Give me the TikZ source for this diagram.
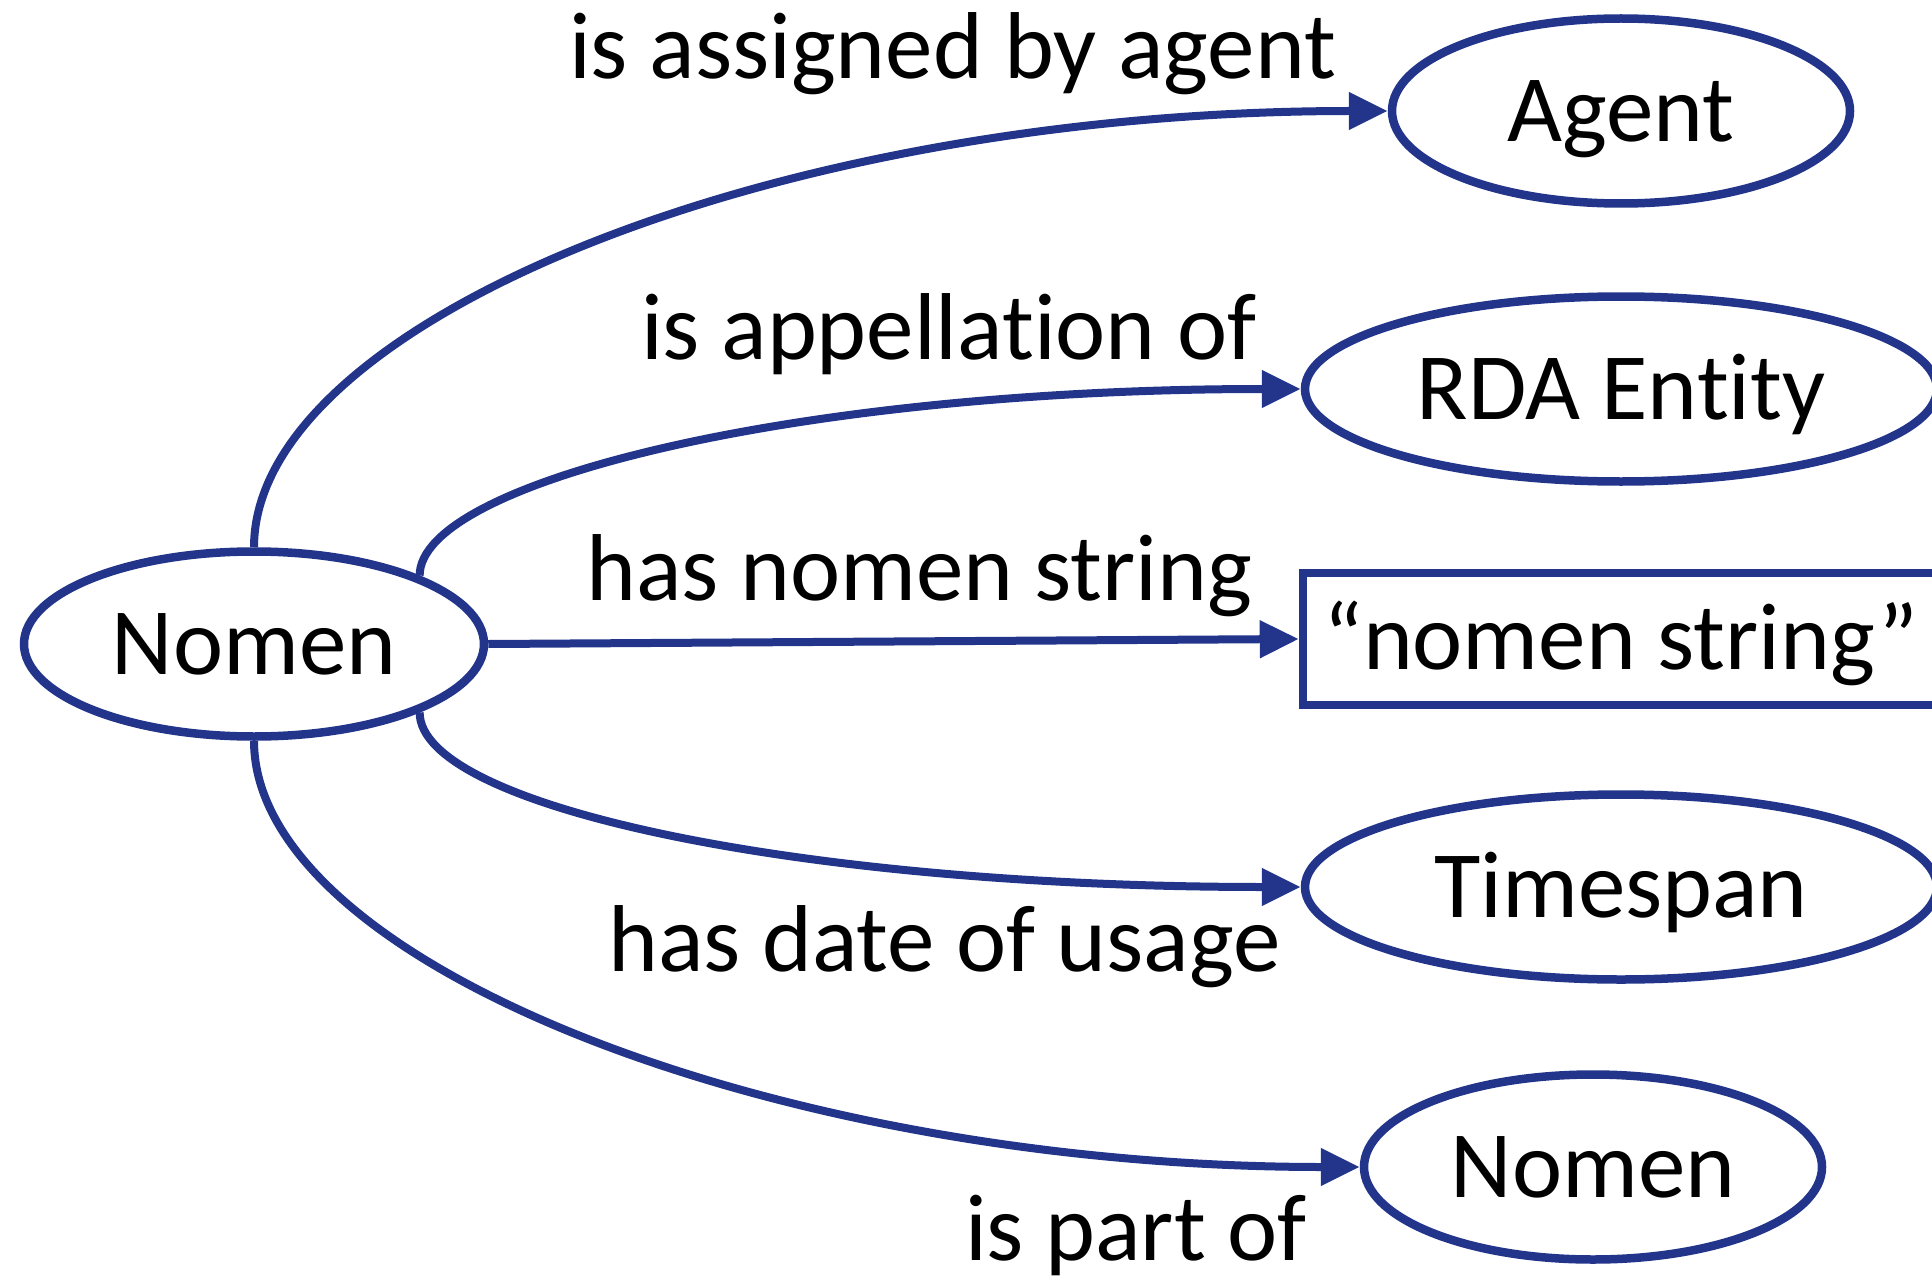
\documentclass[tikz,border=0pt]{standalone}
\usepackage{fontspec}
\setmainfont{Carlito}[RawFeature={-liga;-clig;-dlig;-hlig;-calt}]
\usetikzlibrary{shapes.geometric,arrows.meta}
\definecolor{navy}{RGB}{34,53,139}
\begin{document}
\begin{tikzpicture}[x=1pt,y=-1pt,
  every node/.style={font=\fontsize{95}{114}\selectfont, text=black},
  ent/.style={ellipse, draw=navy, line width=8.5pt, inner sep=0pt, minimum height=185pt,
    text height=61pt, text depth=0pt},
  lit/.style={rectangle, draw=navy, line width=8.5pt, inner sep=0pt, minimum height=132pt,
    minimum width=636pt, text height=61pt, text depth=0pt},
  lab/.style={anchor=base west, inner sep=0pt},
  rel/.style={draw=navy, line width=8pt, -{Triangle[length=39pt,width=36pt]}}]
\useasboundingbox (0,0) rectangle (1932,1281);
\node[ent, minimum width=460pt] (n) at (254,644) {Nomen};
\node[ent, minimum width=458pt] (ag) at (1621,111) {Agent};
\node[ent, minimum width=632pt] (rda) at (1621,389) {RDA Ent\kern0pt ity};
\node[lit] (str) at (1621,639) {“nomen string”};
\node[ent, minimum width=632pt] (ts) at (1621,887) {Timespan};
\node[ent, minimum width=458pt] (n2) at (1593,1167) {Nomen};
\draw[rel] (n.north) .. controls +(0,-223) and +(-619,0) .. (ag.west);
\draw[rel] (n.north east) .. controls +(0,-94) and +(-502,0) .. (rda.west);
\draw[rel] (n.east) -- (str.west);
\draw[rel] (n.south east) .. controls +(0,94) and +(-502,0) .. (ts.west);
\draw[rel] (n.south) .. controls +(0,222) and +(-584,0) .. (n2.west);
\node[lab] (l1) at (569,79) {is assigned by agent};
\node[lab] (l2) at (641,359) {is appellat\kern0pt ion of};
\node[lab] (l3) at (586,600) {has nomen string};
\node[lab] (l4) at (608,971) {has date of usage};
\node[lab] (l5) at (965,1260) {is part of};
\end{tikzpicture}
\end{document}
